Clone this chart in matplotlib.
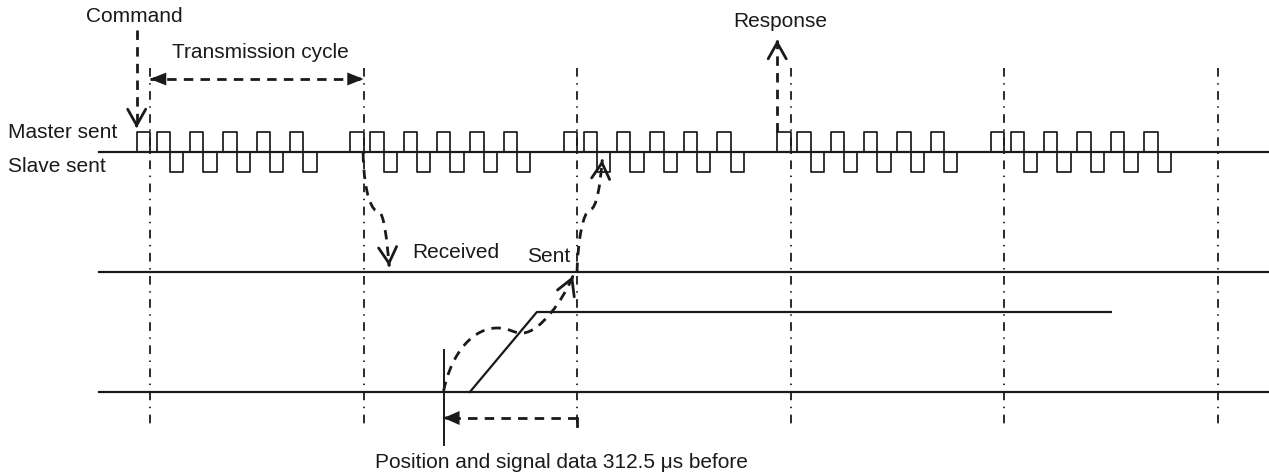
import matplotlib.pyplot as plt
from matplotlib.path import Path
from matplotlib.patches import PathPatch, FancyArrowPatch

plt.rcParams['font.family'] = ['Liberation Sans', 'DejaVu Sans']

# time axis in microseconds, one transmission cycle = 500 us
cycle_times = [0, 500, 1000, 1500, 2000, 2500]
frame_cycles = [0, 500, 1000, 1500, 2000]
pulse_width = 31.25
master_offsets = [-31.25, 15.625, 93.75, 171.875, 250.0, 328.125]
slave_offsets = [46.875, 125.0, 203.125, 281.25, 359.375]
sample_time = 687.5          # 312.5 us before the send at 1000
position_t = [749, 906, 2250]
position_level = [0, 1, 1]

labels = {
    'master': 'Master sent', 'slave': 'Slave sent', 'command': 'Command',
    'cycle': 'Transmission cycle', 'response': 'Response', 'received': 'Received',
    'sent': 'Sent', 'note': 'Position and signal data 312.5 \u03bcs before',
}

# layout (vertical lanes, in pixels from top)
bus_y, pulse_h = 152, 20
recv_y = 272
pos_low, pos_high = 392, 312
line_start = -119

ink = '#1a1a1a'
ARW = 2.0
DASH = (0, (3.4, 2.6))
DASHDOT = (0, (4.8, 3.6, 0.8, 3.6))

fig = plt.figure(figsize=(12.69, 4.74), dpi=100)
ax = fig.add_axes([0, 0, 1, 1])
ax.set_xlim(-351.3, 2620.4)
ax.set_ylim(474, 0)
ax.axis('off')
x_end = ax.get_xlim()[1]


def head(tip, frm, style='->', hl=11.5, hw=6.5):
    # draw only the (solid) arrow head at tip, pointing away from frm
    near = (tip[0] + 0.02 * (frm[0] - tip[0]), tip[1] + 0.02 * (frm[1] - tip[1]))
    ax.add_patch(FancyArrowPatch(near, tip, arrowstyle=f'{style},head_length={hl},head_width={hw}',
                                 mutation_scale=1, lw=ARW, color=ink, shrinkA=0, shrinkB=0,
                                 joinstyle='miter'))


def dashed_curve(xs, ys, arrow=True):
    verts = list(zip(xs, ys))
    codes = [Path.MOVETO] + [Path.CURVE4] * (len(verts) - 1)
    ax.add_patch(PathPatch(Path(verts, codes), fill=False, lw=ARW, ls=DASH, edgecolor=ink))
    if arrow:
        head(verts[-1], verts[-2])


# cycle boundaries
for t in cycle_times:
    ax.plot([t, t], [68, 427], color=ink, lw=1.3, ls=DASHDOT)

# lanes
ax.plot([line_start, x_end], [bus_y, bus_y], color=ink, lw=1.6)
ax.plot([line_start, x_end], [recv_y, recv_y], color=ink, lw=1.6)
ax.plot([line_start, x_end], [pos_low, pos_low], color=ink, lw=1.6)
pos_y = [pos_low + lv * (pos_high - pos_low) for lv in position_level]
ax.plot(position_t, pos_y, color=ink, lw=1.6)

# master / slave frames
for c in frame_cycles:
    for o in master_offsets:
        x0 = c + o
        ax.plot([x0, x0, x0 + pulse_width, x0 + pulse_width],
                [bus_y, bus_y - pulse_h, bus_y - pulse_h, bus_y], color=ink, lw=1.25)
    for o in slave_offsets:
        x0 = c + o
        ax.plot([x0, x0, x0 + pulse_width, x0 + pulse_width],
                [bus_y, bus_y + pulse_h, bus_y + pulse_h, bus_y], color=ink, lw=1.25)

# command / response arrows
t_cmd = frame_cycles[0] + master_offsets[0]
ax.plot([t_cmd, t_cmd], [30, 128], color=ink, lw=ARW, ls=DASH)
head((t_cmd, 128), (t_cmd, 30))
t_resp = frame_cycles[3] + master_offsets[0]
ax.plot([t_resp, t_resp], [132, 40], color=ink, lw=ARW, ls=DASH)
head((t_resp, 40), (t_resp, 132))

# transmission cycle span
ax.plot([cycle_times[0], cycle_times[1]], [79, 79], color=ink, lw=ARW, ls=DASH)
head((cycle_times[0], 79), (cycle_times[1], 79), style='-|>', hl=8, hw=3.2)
head((cycle_times[1], 79), (cycle_times[0], 79), style='-|>', hl=8, hw=3.2)

# received / sent arrows
a = cycle_times[1]
dashed_curve([a - 1, a + 1, a + 20, a + 36.5, a + 48, a + 55, a + 60],
             [153, 195, 212, 212, 214, 240, 266])
a = cycle_times[2]
dashed_curve([a, a + 2, a + 14, a + 30, a + 47, a + 54, a + 59],
             [272, 240, 212, 210, 208, 185, 160])

# position sample marker and its path to the send
ax.plot([sample_time, sample_time], [350, 445], color=ink, lw=1.4)
s = sample_time
dashed_curve([s, s + 20, s + 73, s + 125, s + 155, s + 167, s + 186, s + 226, s + 280, s + 303],
             [391, 350, 328, 328, 328, 334, 333, 332, 300, 276])

# 312.5 us bracket
ax.plot([cycle_times[2], sample_time], [418, 418], color=ink, lw=ARW, ls=DASH)
ax.plot([cycle_times[2], cycle_times[2]], [418, 426], color=ink, lw=ARW)
head((sample_time, 418), (cycle_times[2], 418), style='-|>', hl=8, hw=3.5)

# text
fs = 15
ax.text(-332, 133, labels['master'], ha='left', va='center', fontsize=fs, color=ink)
ax.text(-333, 166, labels['slave'], ha='left', va='center', fontsize=fs, color=ink)
ax.text(-37, 16, labels['command'], ha='center', va='center', fontsize=fs, color=ink)
ax.text(257.6, 52, labels['cycle'], ha='center', va='center', fontsize=fs, color=ink)
ax.text(1475, 21, labels['response'], ha='center', va='center', fontsize=fs, color=ink)
ax.text(613.5, 252, labels['received'], ha='left', va='center', fontsize=fs, color=ink)
ax.text(983.5, 256, labels['sent'], ha='right', va='center', fontsize=fs, color=ink)
ax.text(527, 462, labels['note'], ha='left', va='center', fontsize=fs, color=ink)

fig.savefig('out.png', dpi=100)
